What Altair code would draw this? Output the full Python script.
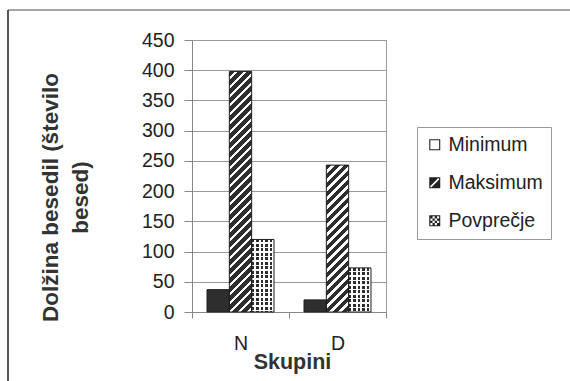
import altair as alt
import pandas as pd

# ---- data ----
groups = ["N", "D"]
series = ["Minimum", "Maksimum", "Povprečje"]
minimum = [37, 20]
maksimum = [398, 243]
povprecje = [120, 73]
y_ticks = [0, 50, 100, 150, 200, 250, 300, 350, 400, 450]

rows = []
for gi, g in enumerate(groups):
    for s, vals in zip(series, [minimum, maksimum, povprecje]):
        rows.append({"group": g, "series": s, "value": vals[gi]})
df = pd.DataFrame(rows)

# ---- style ----
FONT = "Liberation Sans"
DARK = "#2e2e2e"
W, H = 194, 272
YMAX = 450
PAD_OUT = 0.672
BAR_W = (W / 2) / (3 + 2 * PAD_OUT)


def px(v):
    return v * H / YMAX


def diag_grad(h, period=9.0, dark=5.5):
    w = BAR_W
    L = w + h
    k = L / (w * w + h * h)
    stops = []
    s = 0.0
    while s < L:
        a = s / L
        b = min((s + dark) / L, 1)
        c = min((s + period) / L, 1)
        stops += [
            {"offset": a, "color": DARK},
            {"offset": b, "color": DARK},
            {"offset": b, "color": "white"},
            {"offset": c, "color": "white"},
        ]
        s += period
    return {"gradient": "linear", "x1": 0, "y1": 0, "x2": k * w, "y2": k * h, "stops": stops}


def stripe_grad(length, vertical, c1, c2, period=4.5, d=2.8):
    stops = []
    s = 0.0
    while s < length:
        a = s / length
        b = min((s + d) / length, 1)
        c = min((s + period) / length, 1)
        stops += [
            {"offset": a, "color": c1},
            {"offset": b, "color": c1},
            {"offset": b, "color": c2},
            {"offset": c, "color": c2},
        ]
        s += period
    if vertical:
        return {"gradient": "linear", "x1": 0, "y1": 0, "x2": 0, "y2": 1, "stops": stops}
    return {"gradient": "linear", "x1": 0, "y1": 0, "x2": 1, "y2": 0, "stops": stops}


# legend symbol paths
RING = "M-1,-1H1V1H-1Z M-0.8,-0.8V0.8H0.8V-0.8Z"
MAKS_SYM = RING + " M-0.8,-0.8L0.6,-0.8L-0.8,0.6Z M0.8,0.8L-0.6,0.8L0.8,-0.6Z"
cells = []
for i in range(4):
    for j in range(4):
        if (i + j) % 2 == 0:
            x0 = -0.8 + 0.4 * i
            y0 = -0.8 + 0.4 * j
            cells.append(f"M{x0:.2f},{y0:.2f}H{x0 + 0.4:.2f}V{y0 + 0.4:.2f}H{x0:.2f}Z")
POV_SYM = RING + " " + " ".join(cells)
sym_paths = [RING, MAKS_SYM, POV_SYM]

x_axis = alt.Axis(
    labelAngle=0, tickBand="extent", tickSize=6, labelPadding=16, labelFontSize=19.5,
    labelColor="#222", domainColor="#888", tickColor="#888", grid=False,
    title="Skupini", titleFontSize=21.5, titleFontWeight="bold", titleColor="#333",
    titleX=100, titleY=56, titleBaseline="alphabetic", titleAlign="center",
)
y_axis = alt.Axis(
    values=y_ticks, tickSize=8, labelPadding=10, labelFontSize=19.5, labelColor="#222",
    domainColor="#888", tickColor="#888", gridColor="#999",
    title=["Dolžina besedil (število", "besed)"], titleFontSize=22.5, titleFontWeight="bold",
    titleColor="#333", titleLineHeight=30, titleX=-142, titleY=157, titleAlign="center",
    titleBaseline="middle", titleAngle=270,
)

enc = dict(
    x=alt.X("group:N", sort=groups, scale=alt.Scale(paddingInner=0, paddingOuter=0), axis=x_axis),
    xOffset=alt.XOffset("series:N", sort=series,
                        scale=alt.Scale(paddingInner=0, paddingOuter=PAD_OUT)),
    y=alt.Y("value:Q", scale=alt.Scale(domain=[0, YMAX], nice=False), axis=y_axis),
)

base = alt.Chart(df)

min_layer = base.transform_filter("datum.series === 'Minimum'").mark_bar(fill=DARK).encode(**enc)

maks_fill = (
    alt.when("datum.group === 'N'").then(alt.value(diag_grad(px(maksimum[0]))))
    .otherwise(alt.value(diag_grad(px(maksimum[1]))))
)
maks_layer = base.transform_filter("datum.series === 'Maksimum'").mark_bar().encode(
    fill=maks_fill, **enc)

row_fill = (
    alt.when("datum.group === 'N'").then(alt.value(stripe_grad(px(povprecje[0]), True, DARK, "white")))
    .otherwise(alt.value(stripe_grad(px(povprecje[1]), True, DARK, "white")))
)
pov_rows = base.transform_filter("datum.series === 'Povprečje'").mark_bar().encode(
    fill=row_fill, **enc)
pov_cols = base.transform_filter("datum.series === 'Povprečje'").mark_bar(
    fill=stripe_grad(BAR_W, False, "rgba(255,255,255,0)", "white")).encode(**enc)

outline = base.mark_bar(fillOpacity=0, stroke="#1e1e1e", strokeWidth=1).encode(**enc)

legend_layer = base.mark_point(filled=True, opacity=0, color="#222").encode(
    shape=alt.Shape(
        "series:N", sort=series, scale=alt.Scale(domain=series, range=sym_paths),
        legend=alt.Legend(
            orient="none", legendX=225, legendY=87, title=None, padding=8,
            strokeColor="#999", fillColor="white", symbolSize=121, symbolOpacity=1,
            symbolStrokeWidth=0, symbolFillColor="#222", labelFontSize=19.5, labelFont=FONT,
            labelColor="#222", labelOffset=4, rowPadding=17, labelLimit=0,
        ),
    ),
    **enc,
)

frame_df = pd.DataFrame({"k": [0]})
frame_top = alt.Chart(frame_df).mark_rule(color="#888", strokeWidth=1.5).encode(
    x=alt.value(-184), x2=alt.value(378), y=alt.value(-30))
frame_left = alt.Chart(frame_df).mark_rule(color="#222", strokeWidth=1.5).encode(
    x=alt.value(-184), y=alt.value(-30), y2=alt.value(341))

chart = alt.layer(
    min_layer, maks_layer, pov_rows, pov_cols, outline, legend_layer, frame_top, frame_left
).properties(
    width=W, height=H,
    autosize=alt.AutoSizeParams(type="none"),
    padding={"left": 192, "top": 40, "right": 184, "bottom": 69},
    background="white",
).configure_view(
    stroke="#999", strokeWidth=1
).configure_axis(
    labelFont=FONT, titleFont=FONT
)

chart.save("out.html", embed_options={"renderer": "svg", "actions": False})
